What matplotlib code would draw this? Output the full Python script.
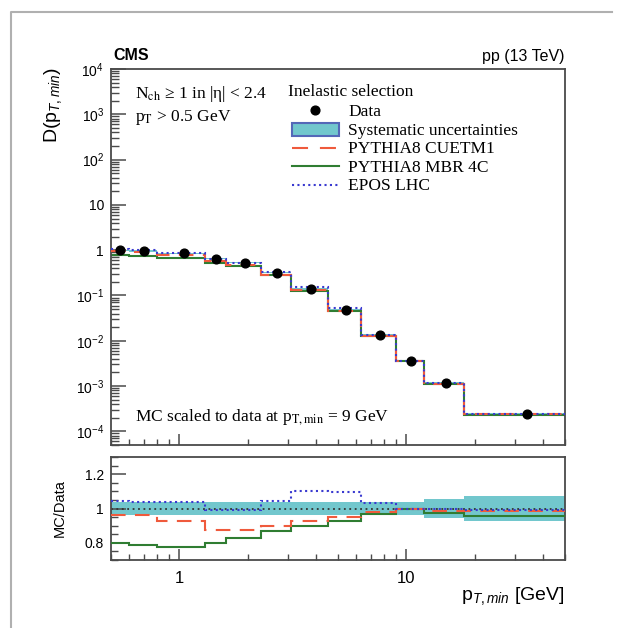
import numpy as np
import matplotlib
matplotlib.use('Agg')
import matplotlib.pyplot as plt
from matplotlib.ticker import LogLocator, FuncFormatter, FixedLocator, NullFormatter
from matplotlib.lines import Line2D
from matplotlib.patches import Rectangle

# ---------------- data ----------------
bin_edges = [0.5, 0.6, 0.8, 1.3, 1.6, 2.3, 3.1, 4.5, 6.3, 9.0, 12.0, 18.0, 50.0]
data_x = [0.55, 0.70, 1.05, 1.45, 1.95, 2.7, 3.8, 5.4, 7.65, 10.5, 15.0, 34.0]
data_y = [1.0, 0.96, 0.85, 0.65, 0.53, 0.32, 0.14, 0.048, 0.0133, 0.0036, 0.00115, 0.00024]
syst_rel = [0.035, 0.035, 0.035, 0.035, 0.035, 0.035, 0.035, 0.035, 0.040, 0.037, 0.055, 0.075]
ratio_cuetm1 = [0.96, 0.96, 0.93, 0.875, 0.875, 0.90, 0.93, 0.95, 0.98, 1.0, 0.985, 0.985]
ratio_mbr4c = [0.80, 0.79, 0.776, 0.80, 0.83, 0.87, 0.90, 0.93, 0.966, 1.0, 0.972, 0.955]
ratio_epos = [1.045, 1.04, 1.035, 0.99, 0.99, 1.045, 1.10, 1.095, 1.033, 1.0, 0.995, 0.99]
x_tick_labels = {1: '1', 10: '10'}
main_y_exponents = [-4, -3, -2, -1, 0, 1, 2, 3, 4]
ratio_major_ticks = [0.8, 1.0, 1.2]
ratio_minor_ticks = [0.7, 0.75, 0.85, 0.9, 0.95, 1.05, 1.1, 1.15, 1.25, 1.3]
legend_labels = ['Data', 'Systematic uncertainties', 'PYTHIA8 CUETM1', 'PYTHIA8 MBR 4C', 'EPOS LHC']

# ---------------- style ----------------
W, H = 618, 628
plt.rcParams['font.family'] = ['Liberation Sans', 'DejaVu Sans']
plt.rcParams['mathtext.fontset'] = 'custom'
plt.rcParams['mathtext.rm'] = 'Liberation Sans'
plt.rcParams['mathtext.it'] = 'Liberation Sans:italic'
plt.rcParams['mathtext.bf'] = 'Liberation Sans:bold'

BAND = '#72c7cd'
BAND_EDGE = '#5468b8'
RED = '#ef5a3c'
GREEN = '#2f7d32'
BLUE = '#3a3ad0'
SPINE = '#4a4a4a'
DASH = (0, (7, 4.5))
DOT = (0, (1, 1.6))
LW = 1.5

fig = plt.figure(figsize=(W / 100, H / 100), dpi=100)


def fx(x):
    return x / W


def fy(y):
    return 1 - y / H


ax = fig.add_axes([fx(111), fy(445), fx(565) - fx(111), fy(69) - fy(445)])
axr = fig.add_axes([fx(111), fy(560), fx(565) - fx(111), fy(457) - fy(560)])

edges = np.array(bin_edges)
d = np.array(data_y)
s = np.array(syst_rel)
r_cu = np.array(ratio_cuetm1)
r_mbr = np.array(ratio_mbr4c)
r_ep = np.array(ratio_epos)

# ---------------- main panel ----------------
ax.set_xscale('log')
ax.set_yscale('log')
ax.stairs(d * (1 + s), edges, baseline=d * (1 - s), fill=True, color=BAND, zorder=1)
ax.stairs(d * r_mbr, edges, baseline=None, color=GREEN, lw=LW, zorder=2)
ax.stairs(d * r_cu, edges, baseline=None, color=RED, lw=LW, linestyle=DASH, zorder=3)
ax.stairs(d * r_ep, edges, baseline=None, color=BLUE, lw=LW, linestyle=DOT, zorder=4)
ax.plot(data_x, data_y, 'o', color='black', ms=6.3, zorder=5)
ax.set_xlim(bin_edges[0], bin_edges[-1])
ax.set_ylim(5e-5, 1e4)


def yfmt(v, pos):
    e = int(round(np.log10(v)))
    if e == 0:
        return '1'
    if e == 1:
        return '10'
    return r'$10^{%d}$' % e


major_y = [10.0 ** e for e in main_y_exponents]
minor_y = [m * 10.0 ** e for e in [-5] + main_y_exponents[:-1] for m in range(2, 10)]
minor_y = [v for v in minor_y if 5e-5 <= v <= 1e4]
ax.yaxis.set_major_locator(FixedLocator(major_y))
ax.yaxis.set_minor_locator(FixedLocator(minor_y))
ax.yaxis.set_major_formatter(FuncFormatter(yfmt))
ax.yaxis.set_minor_formatter(NullFormatter())
ax.xaxis.set_major_locator(FixedLocator(list(x_tick_labels.keys())))
ax.xaxis.set_minor_locator(LogLocator(base=10, subs=np.arange(2, 10), numticks=30))
ax.xaxis.set_major_formatter(NullFormatter())
ax.xaxis.set_minor_formatter(NullFormatter())
ax.tick_params(axis='y', which='major', direction='in', length=11, width=1.1, color=SPINE,
               left=True, right=False, labelsize=10, pad=5)
ax.tick_params(axis='y', which='minor', direction='in', length=6, width=1.0, color=SPINE,
               left=True, right=False, labelleft=False)
ax.tick_params(axis='x', which='major', direction='in', length=8, width=1.1, color=SPINE,
               bottom=True, top=False, labelbottom=False)
ax.tick_params(axis='x', which='minor', direction='in', length=4, width=1.0, color=SPINE,
               bottom=True, top=False, labelbottom=False)

# ---------------- ratio panel ----------------
axr.set_xscale('log')
axr.stairs(1 + s, edges, baseline=1 - s, fill=True, color=BAND, zorder=1)
axr.stairs(d / d, edges, baseline=None, color='#333333', lw=1.3, linestyle=(0, (1, 2)), zorder=2)
axr.stairs(r_mbr, edges, baseline=None, color=GREEN, lw=LW, zorder=3)
axr.stairs(r_cu, edges, baseline=None, color=RED, lw=LW, linestyle=DASH, zorder=4)
axr.stairs(r_ep, edges, baseline=None, color=BLUE, lw=LW, linestyle=DOT, zorder=5)
axr.set_xlim(bin_edges[0], bin_edges[-1])
axr.set_ylim(0.7, 1.3)
axr.yaxis.set_major_locator(FixedLocator(ratio_major_ticks))
axr.yaxis.set_minor_locator(FixedLocator(ratio_minor_ticks))
axr.yaxis.set_major_formatter(FuncFormatter(lambda v, p: '%g' % v))
axr.yaxis.set_minor_formatter(NullFormatter())
axr.xaxis.set_major_locator(FixedLocator(list(x_tick_labels.keys())))
axr.xaxis.set_major_formatter(FuncFormatter(lambda v, p: x_tick_labels.get(int(round(v)), '')))
axr.xaxis.set_minor_locator(LogLocator(base=10, subs=np.arange(2, 10), numticks=30))
axr.xaxis.set_minor_formatter(NullFormatter())
axr.tick_params(axis='y', which='major', direction='in', length=11, width=1.1, color=SPINE,
                left=True, right=False, labelsize=10, pad=5)
axr.tick_params(axis='y', which='minor', direction='in', length=5, width=1.0, color=SPINE,
                left=True, right=False, labelleft=False)
axr.tick_params(axis='x', which='major', direction='in', length=8, width=1.1, color=SPINE,
                bottom=True, top=False, labelsize=12, pad=8)
axr.tick_params(axis='x', which='minor', direction='in', length=4, width=1.0, color=SPINE,
                bottom=True, top=False, labelbottom=False)

for a in (ax, axr):
    for sp in a.spines.values():
        sp.set_color(SPINE)
        sp.set_linewidth(1.3)

# ---------------- labels & texts ----------------
fig.text(fx(113), fy(60), 'CMS', weight='bold', size=11.5, va='baseline', ha='left')
fig.text(fx(565), fy(61), 'pp (13 TeV)', size=11.5, va='baseline', ha='right')
fig.text(fx(53), fy(67), r'D(p$_{T,min}$)', rotation=90, ha='center', va='top', size=14)
fig.text(fx(565), fy(600), r'p$_{T,min}$ [GeV]', ha='right', va='baseline', size=14)
fig.text(fx(60), fy(508), 'MC/Data', rotation=90, ha='center', va='center', size=10.5)

SERIF = dict(family=['Liberation Serif', 'DejaVu Serif'], math_fontfamily='stix', size=12.5)
fig.text(fx(135), fy(98), r'N$_\mathrm{ch}$ ≥ 1 in |η| < 2.4', va='baseline', ha='left', **SERIF)
fig.text(fx(135), fy(121), r'p$_\mathrm{T}$ > 0.5 GeV', va='baseline', ha='left', **SERIF)
fig.text(fx(135), fy(421), r'MC scaled to data at p$_\mathrm{T,min}$ = 9 GeV', va='baseline', ha='left', **SERIF)

# ---------------- legend (manual) ----------------
fig.text(fx(288), fy(96), 'Inelastic selection', va='baseline', ha='left', **SERIF)
row_y = [110, 129.5, 147.5, 166, 185]
tx = 348
for lab, yy in zip(legend_labels, row_y):
    fig.text(fx(tx), fy(yy + 5.5), lab, va='baseline', ha='left', **SERIF)
fig.add_artist(Line2D([fx(315)], [fy(row_y[0])], marker='o', color='black', ms=6.3,
                      linestyle='none', transform=fig.transFigure))
fig.add_artist(Rectangle((fx(292), fy(136)), fx(339) - fx(292), fy(123) - fy(136),
                         facecolor=BAND, edgecolor=BAND_EDGE, lw=1.5, transform=fig.transFigure))
fig.add_artist(Line2D([fx(292), fx(339)], [fy(row_y[2])] * 2, color=RED, lw=LW,
                      linestyle=(0, (7.7, 5.7)), transform=fig.transFigure))
fig.add_artist(Line2D([fx(292), fx(339)], [fy(row_y[3])] * 2, color=GREEN, lw=LW,
                      transform=fig.transFigure))
fig.add_artist(Line2D([fx(292), fx(339)], [fy(row_y[4])] * 2, color=BLUE, lw=LW,
                      linestyle=DOT, transform=fig.transFigure))

# ---------------- figure border (left and top) ----------------
fig.add_artist(Line2D([fx(10.5), fx(10.5), fx(612)], [fy(628), fy(12), fy(12)],
                      color='#b0b0b0', lw=1.5, transform=fig.transFigure))

fig.savefig('out.png', dpi=100)
